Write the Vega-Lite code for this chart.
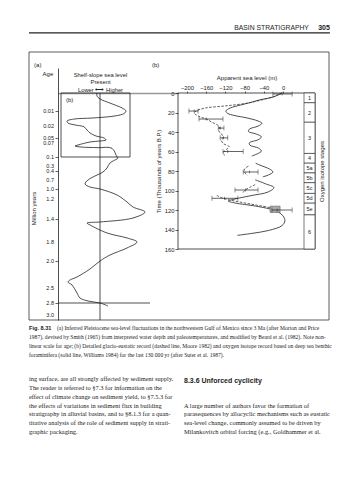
{
  "$schema": "https://vega.github.io/schema/vega-lite/v6.json",
  "width": 359,
  "height": 480,
  "autosize": {"type": "fit", "contains": "padding"},
  "padding": 0,
  "background": "white",
  "config": {
    "view": {"stroke": null},
    "font": "Liberation Sans",
    "axis": {"grid": false, "labelFont": "Liberation Sans", "titleFont": "Liberation Sans", "labelFontSize": 5.8, "titleFontSize": 6, "titleFontWeight": "normal", "labelColor": "#222", "titleColor": "#222", "tickColor": "#222", "domainColor": "#222", "tickWidth": 0.7, "domainWidth": 0.8, "labelOverlap": false, "labelFlush": false},
    "text": {"color": "#222"}
  },
  "datasets": {
    "ageTicks": [
      {"age": 0.01, "label": "0.01"}, {"age": 0.02, "label": "0.02"}, {"age": 0.05, "label": "0.05"}, {"age": 0.07, "label": "0.07"}, {"age": 0.1, "label": "0.1"}, {"age": 0.3, "label": "0.3"}, {"age": 0.4, "label": "0.4"}, {"age": 0.7, "label": "0.7"}, {"age": 1.0, "label": "1.0"}, {"age": 1.2, "label": "1.2"}, {"age": 1.4, "label": "1.4"}, {"age": 1.8, "label": "1.8"}, {"age": 2.0, "label": "2.0"}, {"age": 2.5, "label": "2.5"}, {"age": 2.8, "label": "2.8"}, {"age": 3.0, "label": "3.0"}
    ],
    "ageCurve": [
      {"age": 0, "u": -3}, {"age": 0.0017, "u": -3}, {"age": 0.0033, "u": 0}, {"age": 0.0056, "u": 10}, {"age": 0.0083, "u": 22}, {"age": 0.01, "u": 26}, {"age": 0.0117, "u": 24}, {"age": 0.0133, "u": 15}, {"age": 0.0147, "u": -8}, {"age": 0.0153, "u": -25}, {"age": 0.0167, "u": -33}, {"age": 0.018, "u": -32}, {"age": 0.0193, "u": -25}, {"age": 0.022, "u": -16}, {"age": 0.03, "u": -13}, {"age": 0.0375, "u": -10}, {"age": 0.045, "u": -4}, {"age": 0.05, "u": 4}, {"age": 0.058, "u": 6}, {"age": 0.062, "u": 0}, {"age": 0.066, "u": -10}, {"age": 0.0743, "u": -22}, {"age": 0.0764, "u": -25}, {"age": 0.0786, "u": -19}, {"age": 0.08, "u": -2}, {"age": 0.0814, "u": 12}, {"age": 0.1, "u": 17}, {"age": 0.122, "u": 18}, {"age": 0.233, "u": 10}, {"age": 0.34, "u": 7}, {"age": 0.433, "u": 3}, {"age": 0.567, "u": -5}, {"age": 0.7, "u": -12}, {"age": 0.833, "u": -15}, {"age": 0.933, "u": -10}, {"age": 1.0, "u": 0}, {"age": 1.12, "u": 17}, {"age": 1.23, "u": 27}, {"age": 1.28, "u": 33}, {"age": 1.33, "u": 45}, {"age": 1.39, "u": 33}, {"age": 1.452, "u": 0}, {"age": 1.47, "u": -13}, {"age": 1.504, "u": -10}, {"age": 1.643, "u": 7}, {"age": 1.73, "u": 27}, {"age": 1.8, "u": 37}, {"age": 1.863, "u": 27}, {"age": 1.937, "u": 10}, {"age": 2.0, "u": 0}, {"age": 2.148, "u": -10}, {"age": 2.296, "u": -23}, {"age": 2.352, "u": -30}, {"age": 2.389, "u": -32}, {"age": 2.444, "u": -28}, {"age": 2.6, "u": -23}, {"age": 2.7, "u": -20}, {"age": 2.76, "u": -12}, {"age": 2.8, "u": 0}, {"age": 2.85, "u": 8}
    ],
    "solid": [
      {"seg": 1, "kyr": 0, "m": -2}, {"seg": 1, "kyr": 4, "m": -20}, {"seg": 1, "kyr": 7, "m": -48}, {"seg": 1, "kyr": 10, "m": -70}, {"seg": 1, "kyr": 12.3, "m": -88}, {"seg": 1, "kyr": 15.4, "m": -110}, {"seg": 1, "kyr": 18.5, "m": -119}, {"seg": 1, "kyr": 21, "m": -115}, {"seg": 1, "kyr": 23, "m": -102}, {"seg": 1, "kyr": 25.6, "m": -75}, {"seg": 1, "kyr": 28.7, "m": -52}, {"seg": 1, "kyr": 31, "m": -44}, {"seg": 1, "kyr": 34, "m": -52}, {"seg": 1, "kyr": 37, "m": -70}, {"seg": 1, "kyr": 39.5, "m": -72}, {"seg": 1, "kyr": 42, "m": -56}, {"seg": 1, "kyr": 45, "m": -45}, {"seg": 1, "kyr": 48, "m": -52}, {"seg": 1, "kyr": 51, "m": -70}, {"seg": 1, "kyr": 53.5, "m": -69}, {"seg": 1, "kyr": 56.5, "m": -51}, {"seg": 1, "kyr": 59.5, "m": -45}, {"seg": 1, "kyr": 62.5, "m": -54}, {"seg": 1, "kyr": 64.6, "m": -65},
      {"seg": 2, "kyr": 72, "m": -57}, {"seg": 2, "kyr": 74, "m": -48}, {"seg": 2, "kyr": 78, "m": -28}, {"seg": 2, "kyr": 81, "m": -21}, {"seg": 2, "kyr": 84, "m": -30}, {"seg": 2, "kyr": 86, "m": -42},
      {"seg": 3, "kyr": 89, "m": -58}, {"seg": 3, "kyr": 93, "m": -37}, {"seg": 3, "kyr": 97, "m": -19}, {"seg": 3, "kyr": 101.5, "m": -31}, {"seg": 3, "kyr": 105.5, "m": -69}, {"seg": 3, "kyr": 108.7, "m": -100}, {"seg": 3, "kyr": 110.8, "m": -114}, {"seg": 3, "kyr": 112.8, "m": -100}, {"seg": 3, "kyr": 115.9, "m": -58}, {"seg": 3, "kyr": 119, "m": -27}, {"seg": 3, "kyr": 122, "m": -10}, {"seg": 3, "kyr": 126, "m": 0}, {"seg": 3, "kyr": 131, "m": 4}, {"seg": 3, "kyr": 136, "m": -2}, {"seg": 3, "kyr": 141, "m": -30}, {"seg": 3, "kyr": 144, "m": -65}, {"seg": 3, "kyr": 146, "m": -95}
    ],
    "dashed": [
      {"seg": 1, "kyr": 0, "m": -2}, {"seg": 1, "kyr": 3, "m": -15}, {"seg": 1, "kyr": 6.2, "m": -37}, {"seg": 1, "kyr": 10.3, "m": -73}, {"seg": 1, "kyr": 13.3, "m": -121}, {"seg": 1, "kyr": 15.4, "m": -162}, {"seg": 1, "kyr": 18.5, "m": -181}, {"seg": 1, "kyr": 20.5, "m": -185}, {"seg": 1, "kyr": 23.6, "m": -177}, {"seg": 1, "kyr": 26.7, "m": -160}, {"seg": 1, "kyr": 30, "m": -148}, {"seg": 1, "kyr": 33, "m": -136}, {"seg": 1, "kyr": 36, "m": -132}, {"seg": 1, "kyr": 39, "m": -134}, {"seg": 1, "kyr": 42, "m": -128}, {"seg": 1, "kyr": 46, "m": -125}, {"seg": 1, "kyr": 49, "m": -128}, {"seg": 1, "kyr": 52, "m": -124}, {"seg": 1, "kyr": 55, "m": -112}, {"seg": 1, "kyr": 58, "m": -118}, {"seg": 1, "kyr": 61, "m": -124}, {"seg": 1, "kyr": 64, "m": -122},
      {"seg": 2, "kyr": 75, "m": -72}, {"seg": 2, "kyr": 78, "m": -80}, {"seg": 2, "kyr": 81, "m": -80}, {"seg": 2, "kyr": 85, "m": -74},
      {"seg": 3, "kyr": 94, "m": -58}, {"seg": 3, "kyr": 97, "m": -70}, {"seg": 3, "kyr": 100, "m": -80}, {"seg": 3, "kyr": 103, "m": -84},
      {"seg": 4, "kyr": 105, "m": -138}, {"seg": 4, "kyr": 108, "m": -125}, {"seg": 4, "kyr": 112, "m": -88}, {"seg": 4, "kyr": 115, "m": -55}, {"seg": 4, "kyr": 118, "m": -25}, {"seg": 4, "kyr": 121, "m": -12}, {"seg": 4, "kyr": 123, "m": -14}
    ],
    "errors": [
      {"kyr": 1, "m": -2, "lo": -21, "hi": 19}, {"kyr": 18.5, "m": -185, "lo": -196, "hi": -177}, {"kyr": 26.7, "m": -160, "lo": -175, "hi": -125}, {"kyr": 36, "m": -130, "lo": -135, "hi": -123}, {"kyr": 46, "m": -124, "lo": -131, "hi": -115}, {"kyr": 60, "m": -115, "lo": -125, "hi": -83}, {"kyr": 81, "m": -70, "lo": -83, "hi": -52}, {"kyr": 99.5, "m": -78, "lo": -100, "hi": -52}, {"kyr": 108, "m": -122, "lo": -148, "hi": -94}, {"kyr": 120, "m": -12, "lo": -23, "hi": 19}
    ],
    "stages": [
      {"stage": "1", "start": 0, "end": 10}, {"stage": "2", "start": 10, "end": 30}, {"stage": "3", "start": 30, "end": 62}, {"stage": "4", "start": 62, "end": 72}, {"stage": "5a", "start": 72, "end": 82}, {"stage": "5b", "start": 82, "end": 92}, {"stage": "5c", "start": 92, "end": 103}, {"stage": "5d", "start": 103, "end": 113}, {"stage": "5e", "start": 113, "end": 125}, {"stage": "6", "start": 125, "end": 160}
    ],
    "caption": [
      {"line": 1, "text": "1987), devised by Smith (1965) from interpreted water depth and paleotemperatures, and modified by Beard et al. (1982). Note non-"},
      {"line": 2, "text": "linear scale for age; (b) Detailed glacio-eustatic record (dashed line, Moore 1982) and oxygen isotope record based on deep sea benthic"},
      {"line": 3, "text": "foraminifera (solid line, Williams 1984) for the last 130 000 yr (after Suter et al. 1987)."}
    ],
    "body": [
      {"col": "L", "line": 0, "text": "ing surface, are all strongly affected by sediment supply."},
      {"col": "L", "line": 1, "text": "The reader is referred to §7.3 for information on the"},
      {"col": "L", "line": 2, "text": "effect of climate change on sediment yield, to §7.5.3 for"},
      {"col": "L", "line": 3, "text": "the effects of variations in sediment flux in building"},
      {"col": "L", "line": 4, "text": "stratigraphy in alluvial basins, and to §8.1.3 for a quan-"},
      {"col": "L", "line": 5, "text": "titative analysis of the role of sediment supply in strati-"},
      {"col": "L", "line": 6, "text": "graphic packaging."},
      {"col": "R", "line": 3, "text": "A large number of authors favor the formation of"},
      {"col": "R", "line": 4, "text": "parasequences by allocyclic mechanisms such as eustatic"},
      {"col": "R", "line": 5, "text": "sea-level change, commonly assumed to be driven by"},
      {"col": "R", "line": 6, "text": "Milankovitch orbital forcing (e.g., Goldhammer et al."}
    ]
  },
  "resolve": {"scale": {"x": "independent", "y": "independent"}, "axis": {"x": "independent", "y": "independent"}},
  "layer": [
    {
      "data": {"values": [{}]},
      "layer": [
        {"mark": {"type": "rect", "fillOpacity": 0, "stroke": "#333", "strokeWidth": 0.8},
         "encoding": {
           "x": {"datum": 0, "type": "quantitative", "scale": {"domain": [0, 1], "range": [29, 329], "zero": false, "nice": false}, "axis": null},
           "x2": {"datum": 1},
           "y": {"datum": 0, "type": "quantitative", "scale": {"domain": [0, 1], "range": [52, 320], "zero": false, "nice": false}, "axis": null},
           "y2": {"datum": 1}}},
        {"mark": {"type": "rule", "strokeWidth": 1.3, "color": "#222"},
         "encoding": {
           "x": {"datum": 0, "type": "quantitative", "scale": {"domain": [0, 1], "range": [29, 329], "zero": false, "nice": false}, "axis": null},
           "x2": {"datum": 1.003},
           "y": {"datum": -0.071, "type": "quantitative", "scale": {"domain": [0, 1], "range": [52, 320], "zero": false, "nice": false}, "axis": null}}},
        {"mark": {"type": "text", "text": "BASIN STRATIGRAPHY", "align": "right", "baseline": "alphabetic", "fontSize": 6.8, "font": "Liberation Sans"},
         "encoding": {
           "x": {"datum": 0.933, "type": "quantitative", "scale": {"domain": [0, 1], "range": [29, 329], "zero": false, "nice": false}, "axis": null},
           "y": {"datum": -0.082, "type": "quantitative", "scale": {"domain": [0, 1], "range": [52, 320], "zero": false, "nice": false}, "axis": null}}},
        {"mark": {"type": "text", "text": "305", "align": "right", "baseline": "alphabetic", "fontSize": 7, "fontWeight": "bold", "font": "Liberation Sans"},
         "encoding": {
           "x": {"datum": 1.003, "type": "quantitative", "scale": {"domain": [0, 1], "range": [29, 329], "zero": false, "nice": false}, "axis": null},
           "y": {"datum": -0.082, "type": "quantitative", "scale": {"domain": [0, 1], "range": [52, 320], "zero": false, "nice": false}, "axis": null}}},
        {"mark": {"type": "text", "text": "(a)", "align": "left", "baseline": "middle", "fontSize": 6},
         "encoding": {
           "x": {"datum": 0.017, "type": "quantitative", "scale": {"domain": [0, 1], "range": [29, 329], "zero": false, "nice": false}, "axis": null},
           "y": {"datum": 0.05, "type": "quantitative", "scale": {"domain": [0, 1], "range": [52, 320], "zero": false, "nice": false}, "axis": null}}},
        {"mark": {"type": "text", "text": "(b)", "align": "left", "baseline": "middle", "fontSize": 6},
         "encoding": {
           "x": {"datum": 0.41, "type": "quantitative", "scale": {"domain": [0, 1], "range": [29, 329], "zero": false, "nice": false}, "axis": null},
           "y": {"datum": 0.05, "type": "quantitative", "scale": {"domain": [0, 1], "range": [52, 320], "zero": false, "nice": false}, "axis": null}}},
        {"mark": {"type": "text", "text": "Age", "align": "center", "baseline": "middle", "fontSize": 6},
         "encoding": {
           "x": {"datum": 0.063, "type": "quantitative", "scale": {"domain": [0, 1], "range": [29, 329], "zero": false, "nice": false}, "axis": null},
           "y": {"datum": 0.082, "type": "quantitative", "scale": {"domain": [0, 1], "range": [52, 320], "zero": false, "nice": false}, "axis": null}}}
      ]
    },
    {
      "data": {"name": "ageCurve"},
      "layer": [
        {"mark": {"type": "line", "interpolate": "catmull-rom", "strokeWidth": 0.8, "color": "#222"},
         "encoding": {
           "x": {"field": "u", "type": "quantitative", "scale": {"domain": [-42, 78], "range": [58, 178], "zero": false, "nice": false},
                 "axis": {"orient": "top", "offset": -93, "domain": true, "domainColor": "#999", "domainWidth": 1.5, "ticks": false, "labels": false, "title": ["Shelf-slope sea level", "Present", "Lower  ⟷  Higher"], "titleX": 100, "titlePadding": 1, "titleLineHeight": 7.5, "titleFontSize": 5.8}},
           "y": {"field": "age", "type": "quantitative", "scale": {"domain": [-0.0139, 0, 0.01, 0.02, 0.05, 0.07, 0.1, 0.3, 0.4, 0.7, 1.0, 1.2, 1.4, 1.8, 2.0, 2.5, 2.8, 3.0, 3.083], "range": [68, 93, 111, 126, 138, 143, 157, 166, 171, 180, 189, 199, 219, 242, 261, 288, 303, 315, 320], "zero": false, "nice": false},
                 "axis": {"orient": "left", "offset": -58, "values": [0.01, 0.02, 0.05, 0.07, 0.1, 0.3, 0.4, 0.7, 1, 1.2, 1.4, 1.8, 2, 2.5, 2.8, 3], "labels": false, "tickSize": 3, "title": "Million years", "titlePadding": 18, "titleY": 208}},
           "order": {"field": "age", "type": "quantitative"}}},
        {"data": {"name": "ageTicks"},
         "mark": {"type": "text", "align": "right", "baseline": "middle", "fontSize": 5.5, "dx": -4},
         "encoding": {
           "x": {"datum": -42, "type": "quantitative", "scale": {"domain": [-42, 78], "range": [58, 178], "zero": false, "nice": false}},
           "y": {"field": "age", "type": "quantitative", "scale": {"domain": [-0.0139, 0, 0.01, 0.02, 0.05, 0.07, 0.1, 0.3, 0.4, 0.7, 1.0, 1.2, 1.4, 1.8, 2.0, 2.5, 2.8, 3.0, 3.083], "range": [68, 93, 111, 126, 138, 143, 157, 166, 171, 180, 189, 199, 219, 242, 261, 288, 303, 315, 320], "zero": false, "nice": false}},
           "text": {"field": "label"}}},
        {"data": {"values": [{}]},
         "mark": {"type": "rect", "fillOpacity": 0, "stroke": "#222", "strokeWidth": 0.8},
         "encoding": {
           "x": {"datum": -39, "type": "quantitative", "scale": {"domain": [-42, 78], "range": [58, 178], "zero": false, "nice": false}},
           "x2": {"datum": 30},
           "y": {"datum": 0, "type": "quantitative", "scale": {"domain": [-0.0139, 0, 0.01, 0.02, 0.05, 0.07, 0.1, 0.3, 0.4, 0.7, 1.0, 1.2, 1.4, 1.8, 2.0, 2.5, 2.8, 3.0, 3.083], "range": [68, 93, 111, 126, 138, 143, 157, 166, 171, 180, 189, 199, 219, 242, 261, 288, 303, 315, 320], "zero": false, "nice": false}},
           "y2": {"datum": 0.1}}},
        {"data": {"values": [{}]},
         "mark": {"type": "rule", "strokeWidth": 0.8, "color": "#222"},
         "encoding": {
           "x": {"datum": 0, "type": "quantitative", "scale": {"domain": [-42, 78], "range": [58, 178], "zero": false, "nice": false}},
           "y": {"datum": 0, "type": "quantitative", "scale": {"domain": [-0.0139, 0, 0.01, 0.02, 0.05, 0.07, 0.1, 0.3, 0.4, 0.7, 1.0, 1.2, 1.4, 1.8, 2.0, 2.5, 2.8, 3.0, 3.083], "range": [68, 93, 111, 126, 138, 143, 157, 166, 171, 180, 189, 199, 219, 242, 261, 288, 303, 315, 320], "zero": false, "nice": false}},
           "y2": {"datum": 3.083}}},
        {"data": {"values": [{}]},
         "mark": {"type": "rule", "strokeWidth": 0.8, "color": "#222"},
         "encoding": {
           "x": {"datum": -42, "type": "quantitative", "scale": {"domain": [-42, 78], "range": [58, 178], "zero": false, "nice": false}},
           "x2": {"datum": 50},
           "y": {"datum": 2.8, "type": "quantitative", "scale": {"domain": [-0.0139, 0, 0.01, 0.02, 0.05, 0.07, 0.1, 0.3, 0.4, 0.7, 1.0, 1.2, 1.4, 1.8, 2.0, 2.5, 2.8, 3.0, 3.083], "range": [68, 93, 111, 126, 138, 143, 157, 166, 171, 180, 189, 199, 219, 242, 261, 288, 303, 315, 320], "zero": false, "nice": false}}}},
        {"data": {"values": [{}]},
         "mark": {"type": "text", "text": "(b)", "align": "left", "baseline": "middle", "fontSize": 6},
         "encoding": {
           "x": {"datum": -34, "type": "quantitative", "scale": {"domain": [-42, 78], "range": [58, 178], "zero": false, "nice": false}},
           "y": {"datum": 0.004, "type": "quantitative", "scale": {"domain": [-0.0139, 0, 0.01, 0.02, 0.05, 0.07, 0.1, 0.3, 0.4, 0.7, 1.0, 1.2, 1.4, 1.8, 2.0, 2.5, 2.8, 3.0, 3.083], "range": [68, 93, 111, 126, 138, 143, 157, 166, 171, 180, 189, 199, 219, 242, 261, 288, 303, 315, 320], "zero": false, "nice": false}}}}
      ]
    },
    {
      "layer": [
        {"data": {"values": [{}]},
         "mark": {"type": "rect", "fillOpacity": 0, "stroke": "#222", "strokeWidth": 0.8},
         "encoding": {
           "x": {"datum": -218.75, "type": "quantitative", "scale": {"domain": [-218.75, 66.67], "range": [178, 315], "zero": false, "nice": false}},
           "x2": {"datum": 66.67},
           "y": {"datum": 0, "type": "quantitative", "scale": {"domain": [0, 160], "range": [93, 249], "zero": false, "nice": false}},
           "y2": {"datum": 160}}},
        {"data": {"name": "solid"},
         "mark": {"type": "line", "interpolate": "catmull-rom", "strokeWidth": 0.8, "color": "#222"},
         "encoding": {
           "x": {"field": "m", "type": "quantitative", "scale": {"domain": [-218.75, 66.67], "range": [178, 315], "zero": false, "nice": false},
                 "axis": {"orient": "top", "offset": -93, "values": [-200, -160, -120, -80, -40, 0], "domain": false, "tickSize": 2, "labelPadding": 1, "title": "Apparent sea level (m)", "titlePadding": 4}},
           "y": {"field": "kyr", "type": "quantitative", "scale": {"domain": [0, 160], "range": [93, 249], "zero": false, "nice": false},
                 "axis": {"orient": "left", "offset": -178, "values": [0, 20, 40, 60, 80, 100, 120, 140, 160], "domain": false, "tickSize": 3, "labelPadding": 1, "title": "Time (Thousands of years B.P.)", "titlePadding": 3}},
           "detail": {"field": "seg", "type": "nominal"},
           "order": {"field": "kyr", "type": "quantitative"}}},
        {"data": {"name": "dashed"},
         "mark": {"type": "line", "interpolate": "catmull-rom", "strokeWidth": 0.8, "strokeDash": [2.5, 1.5], "color": "#333"},
         "encoding": {
           "x": {"field": "m", "type": "quantitative", "scale": {"domain": [-218.75, 66.67], "range": [178, 315], "zero": false, "nice": false}},
           "y": {"field": "kyr", "type": "quantitative", "scale": {"domain": [0, 160], "range": [93, 249], "zero": false, "nice": false}},
           "detail": {"field": "seg", "type": "nominal"},
           "order": {"field": "kyr", "type": "quantitative"}}},
        {"data": {"values": [{}]},
         "mark": {"type": "rect", "fill": "#aaa", "stroke": "#555", "strokeWidth": 0.5},
         "encoding": {
           "x": {"datum": -27, "type": "quantitative", "scale": {"domain": [-218.75, 66.67], "range": [178, 315], "zero": false, "nice": false}},
           "x2": {"datum": -6},
           "y": {"datum": 116, "type": "quantitative", "scale": {"domain": [0, 160], "range": [93, 249], "zero": false, "nice": false}},
           "y2": {"datum": 122.5}}},
        {"data": {"name": "errors"},
         "mark": {"type": "rule", "strokeWidth": 0.7, "color": "#222"},
         "encoding": {
           "x": {"field": "lo", "type": "quantitative", "scale": {"domain": [-218.75, 66.67], "range": [178, 315], "zero": false, "nice": false}},
           "x2": {"field": "hi"},
           "y": {"field": "kyr", "type": "quantitative", "scale": {"domain": [0, 160], "range": [93, 249], "zero": false, "nice": false}}}},
        {"data": {"name": "errors"},
         "mark": {"type": "tick", "orient": "vertical", "size": 5, "thickness": 0.7, "color": "#222"},
         "encoding": {
           "x": {"field": "lo", "type": "quantitative", "scale": {"domain": [-218.75, 66.67], "range": [178, 315], "zero": false, "nice": false}},
           "y": {"field": "kyr", "type": "quantitative", "scale": {"domain": [0, 160], "range": [93, 249], "zero": false, "nice": false}}}},
        {"data": {"name": "errors"},
         "mark": {"type": "tick", "orient": "vertical", "size": 5, "thickness": 0.7, "color": "#222"},
         "encoding": {
           "x": {"field": "hi", "type": "quantitative", "scale": {"domain": [-218.75, 66.67], "range": [178, 315], "zero": false, "nice": false}},
           "y": {"field": "kyr", "type": "quantitative", "scale": {"domain": [0, 160], "range": [93, 249], "zero": false, "nice": false}}}},
        {"data": {"name": "errors"},
         "mark": {"type": "tick", "orient": "vertical", "size": 3, "thickness": 0.7, "color": "#222"},
         "encoding": {
           "x": {"field": "m", "type": "quantitative", "scale": {"domain": [-218.75, 66.67], "range": [178, 315], "zero": false, "nice": false}},
           "y": {"field": "kyr", "type": "quantitative", "scale": {"domain": [0, 160], "range": [93, 249], "zero": false, "nice": false}}}}
      ]
    },
    {
      "data": {"name": "stages"},
      "transform": [{"calculate": "(datum.start + datum.end) / 2", "as": "mid"}],
      "layer": [
        {"mark": {"type": "rect", "fill": "white", "stroke": "#222", "strokeWidth": 0.6},
         "encoding": {
           "x": {"datum": 0, "type": "quantitative", "scale": {"domain": [0, 1], "range": [304, 315], "zero": false, "nice": false}, "axis": null},
           "x2": {"datum": 1},
           "y": {"field": "start", "type": "quantitative", "scale": {"domain": [0, 160], "range": [93, 249], "zero": false, "nice": false},
                 "axis": {"orient": "right", "offset": -44, "domain": false, "ticks": false, "labels": false, "title": "Oxygen isotope stages", "titlePadding": 3, "titleAngle": 270, "titleBaseline": "top"}},
           "y2": {"field": "end"}}},
        {"mark": {"type": "text", "fontSize": 5.5, "align": "center", "baseline": "middle"},
         "encoding": {
           "x": {"datum": 0.5, "type": "quantitative", "scale": {"domain": [0, 1], "range": [304, 315], "zero": false, "nice": false}},
           "y": {"field": "mid", "type": "quantitative", "scale": {"domain": [0, 160], "range": [93, 249], "zero": false, "nice": false}},
           "text": {"field": "stage"}}}
      ]
    },
    {
      "layer": [
        {"data": {"name": "caption"},
         "mark": {"type": "text", "align": "left", "baseline": "middle", "font": "Liberation Serif", "fontSize": 5.6},
         "encoding": {
           "x": {"datum": 0, "type": "quantitative", "scale": {"domain": [0, 1], "range": [29, 329], "zero": false, "nice": false}, "axis": null},
           "y": {"field": "line", "type": "quantitative", "scale": {"domain": [0, 3], "range": [328, 355], "zero": false, "nice": false}, "axis": null},
           "text": {"field": "text"}}},
        {"data": {"values": [{}]},
         "mark": {"type": "text", "align": "left", "baseline": "middle", "font": "Liberation Sans", "fontWeight": "bold", "fontSize": 5.6, "text": "Fig. 8.31"},
         "encoding": {
           "x": {"datum": 0, "type": "quantitative", "scale": {"domain": [0, 1], "range": [29, 329], "zero": false, "nice": false}},
           "y": {"datum": 0, "type": "quantitative", "scale": {"domain": [0, 3], "range": [328, 355], "zero": false, "nice": false}}}},
        {"data": {"values": [{}]},
         "mark": {"type": "text", "align": "left", "baseline": "middle", "font": "Liberation Serif", "fontSize": 5.6, "text": "(a) Inferred Pleistocene sea-level fluctuations in the northwestern Gulf of Mexico since 3 Ma (after Morton and Price"},
         "encoding": {
           "x": {"datum": 0.093, "type": "quantitative", "scale": {"domain": [0, 1], "range": [29, 329], "zero": false, "nice": false}},
           "y": {"datum": 0, "type": "quantitative", "scale": {"domain": [0, 3], "range": [328, 355], "zero": false, "nice": false}}}}
      ]
    },
    {
      "layer": [
        {"data": {"name": "body"},
         "mark": {"type": "text", "align": "left", "baseline": "middle", "font": "Liberation Serif", "fontSize": 6.4},
         "encoding": {
           "x": {"field": "col", "type": "nominal", "scale": {"type": "point", "domain": ["L", "R"], "range": [29, 184], "padding": 0}, "axis": null},
           "y": {"field": "line", "type": "quantitative", "scale": {"domain": [0, 6], "range": [379, 432], "zero": false, "nice": false}, "axis": null},
           "text": {"field": "text"}}},
        {"data": {"values": [{}]},
         "mark": {"type": "text", "align": "left", "baseline": "middle", "font": "Liberation Sans", "fontWeight": "bold", "fontSize": 7, "text": "8.3.6  Unforced cyclicity"},
         "encoding": {
           "x": {"datum": "R", "type": "nominal", "scale": {"type": "point", "domain": ["L", "R"], "range": [29, 184], "padding": 0}},
           "y": {"datum": 0.2, "type": "quantitative", "scale": {"domain": [0, 6], "range": [379, 432], "zero": false, "nice": false}}}}
      ]
    }
  ]
}
